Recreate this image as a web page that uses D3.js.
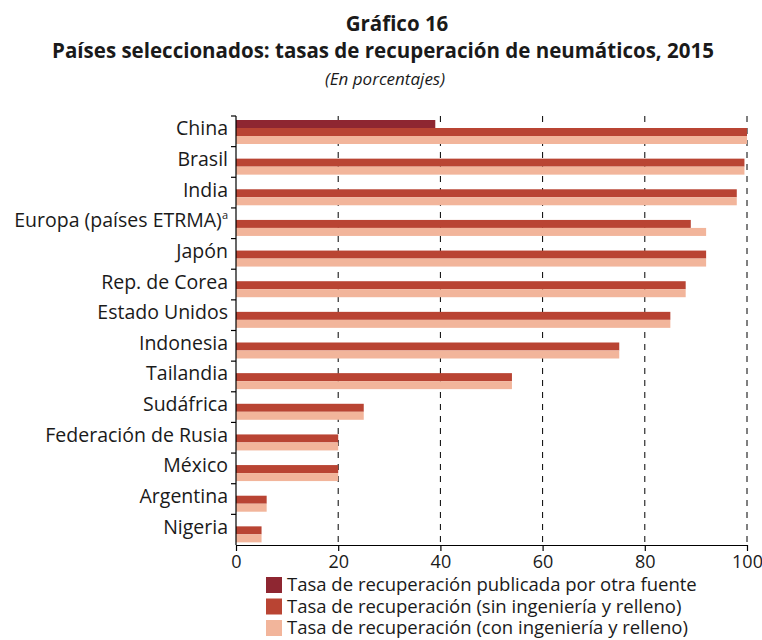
<html>
<head>
<script src="https://d3js.org/d3.v7.min.js"></script>
<style>
    body { margin: 0; background: #fff; }
    text { font-family: "Open Sans", Lato, sans-serif; fill: #1a1a1a; }
</style>
</head>
<body>
<svg id="chart" width="762" height="640"></svg>
<script>
    const countries = ["China", "Brasil", "India", "Europa (países ETRMA)", "Japón", "Rep. de Corea",
        "Estado Unidos", "Indonesia", "Tailandia", "Sudáfrica", "Federación de Rusia", "México",
        "Argentina", "Nigeria"];
    const otraFuente = [39, null, null, null, null, null, null, null, null, null, null, null, null, null];
    const sinIngenieria = [100, 99.5, 98, 89, 92, 88, 85, 75, 54, 25, 20, 20, 6, 5];
    const conIngenieria = [100, 99.5, 98, 92, 92, 88, 85, 75, 54, 25, 20, 20, 6, 5];
    const seriesNames = ["Tasa de recuperación publicada por otra fuente",
        "Tasa de recuperación (sin ingeniería y relleno)",
        "Tasa de recuperación (con ingeniería y relleno)"];
    const seriesColors = ["#8e2631", "#b94433", "#f2b59b"];
    const xTicks = [0, 20, 40, 60, 80, 100];

    const svg = d3.select("#chart");
    const margin = {top: 116, right: 15, bottom: 95, left: 236};

    // titles
    svg.append("text").attr("x", 397).attr("y", 31).attr("text-anchor", "middle")
        .attr("font-size", 20.5).attr("font-weight", "bold").text("Gráfico 16");
    svg.append("text").attr("x", 383).attr("y", 58).attr("text-anchor", "middle")
        .attr("font-size", 20.5).attr("font-weight", "bold")
        .text("Países seleccionados: tasas de recuperación de neumáticos, 2015");
    svg.append("text").attr("x", 385).attr("y", 85).attr("text-anchor", "middle")
        .attr("font-size", 17).attr("font-style", "italic").text("(En porcentajes)");

    const g = svg.append("g").attr("transform", "translate(" + margin.left + "," + margin.top + ")");

    const x = d3.scaleLinear().domain([0, 100]).range([0, 511]);
    const y = d3.scaleBand().domain(countries).range([0, 429]);
    const inner = d3.scaleBand().domain([0, 1, 2]).range([4, 28]);

    // dashed grid
    g.selectAll("line.grid").data(xTicks.slice(1))
        .join("line")
        .attr("class", "grid")
        .attr("x1", d => x(d)).attr("x2", d => x(d))
        .attr("y1", 0).attr("y2", 429)
        .attr("stroke", "#000").attr("stroke-width", 1)
        .attr("stroke-dasharray", "6,6");

    const series = [otraFuente, sinIngenieria, conIngenieria];
    series.forEach((vals, s) => {
        g.selectAll("rect.s" + s)
            .data(countries.map((c, i) => ({c: c, v: vals[i]})).filter(d => d.v !== null))
            .join("rect")
            .attr("class", "s" + s)
            .attr("x", x(0))
            .attr("y", d => y(d.c) + inner(s))
            .attr("width", d => x(d.v) - x(0))
            .attr("height", inner.bandwidth())
            .attr("fill", seriesColors[s]);
    });

    // y axis with ticks between categories
    g.append("line").attr("x1", 0).attr("x2", 0).attr("y1", 0).attr("y2", 429)
        .attr("stroke", "#000").attr("stroke-width", 1.2);
    g.selectAll("line.ytick").data(countries)
        .join("line")
        .attr("class", "ytick")
        .attr("x1", -5).attr("x2", 0)
        .attr("y1", d => y(d)).attr("y2", d => y(d))
        .attr("stroke", "#000").attr("stroke-width", 1.2);

    g.selectAll("text.ylab").data(countries)
        .join("text")
        .attr("class", "ylab")
        .attr("x", -8)
        .attr("y", d => y(d) + y.bandwidth() / 2 - 1)
        .attr("text-anchor", "end")
        .attr("dominant-baseline", "middle")
        .attr("font-size", 19.5)
        .each(function (d) {
            const t = d3.select(this);
            t.append("tspan").text(d);
            if (d.startsWith("Europa")) {
                t.append("tspan").attr("font-size", 11).attr("dy", -6).text("a");
            }
        });

    // x axis
    const xAxis = g.append("g")
        .attr("transform", "translate(0," + 429 + ")")
        .call(d3.axisBottom(x).tickValues(xTicks).tickSize(6).tickSizeOuter(0));
    xAxis.select(".domain").attr("stroke", "#000").attr("stroke-width", 1.2);
    xAxis.selectAll(".tick line").attr("stroke", "#000").attr("stroke-width", 1.2);
    xAxis.selectAll(".tick text").attr("font-size", 18).attr("font-family", "'Open Sans', sans-serif")
        .attr("fill", "#1a1a1a").attr("dy", "0.75em");

    // legend
    const legend = svg.append("g").attr("transform", "translate(266,577)");
    seriesNames.forEach((name, i) => {
        legend.append("rect").attr("x", 0).attr("y", i * 21.5).attr("width", 16).attr("height", 16)
            .attr("fill", seriesColors[i]);
        legend.append("text").attr("x", 21).attr("y", i * 21.5 + 14)
            .attr("font-size", 18.5).text(name);
    });
</script>
</body>
</html>
